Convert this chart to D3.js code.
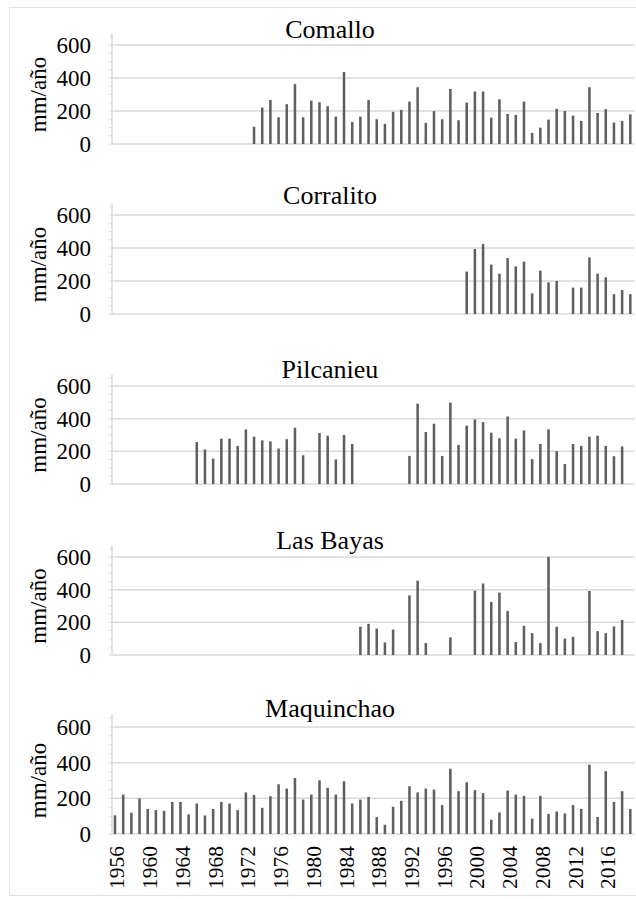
<!DOCTYPE html>
<html>
<head>
<meta charset="utf-8">
<script src="https://cdn.jsdelivr.net/npm/d3@7"></script>
<style>
  html, body { margin: 0; padding: 0; background: #fff; }
  svg { display: block; }
  svg text { font-family: "Liberation Serif", "Times New Roman", "DejaVu Serif", serif; fill: #000; }
</style>
</head>
<body>
<svg id="chart" width="636" height="899"></svg>
<script>
// ---------------- DATA ----------------
const firstYear = 1956;
const lastYear = 2019;
const yTicks = [0, 200, 400, 600];
const xTickLabels = [1956, 1960, 1964, 1968, 1972, 1976, 1980, 1984, 1988, 1992, 1996, 2000, 2004, 2008, 2012, 2016];
const yAxisLabel = "mm/año";

// annual precipitation (mm/año), starting at the given year; null = no data
const comalloStart = 1973;
const comallo = [105,221,267,162,241,363,162,263,253,229,166,436,134,166,267,150,122,195,207,257,344,128,199,150,334,144,251,318,318,160,271,182,176,257,67,99,148,213,200,172,140,344,188,211,130,140,180];

const corralitoStart = 1999;
const corralito = [257,394,424,299,244,339,289,317,125,263,192,200,null,160,160,343,244,222,120,145,120];

const pilcanieuStart = 1966;
const pilcanieu = [257,211,156,278,278,233,334,290,267,261,217,274,344,176,null,312,296,150,300,245,null,null,null,null,null,null,172,492,318,369,172,498,239,357,395,379,314,280,413,278,328,152,245,334,201,122,245,233,290,296,233,170,230];

const lasBayasStart = 1986;
const lasBayas = [173,191,162,77,156,null,365,455,73,null,null,108,null,null,394,438,325,382,270,79,179,134,73,601,173,101,112,null,392,146,134,175,215];

const maquinchaoStart = 1956;
const maquinchao = [105,221,119,199,140,134,130,180,180,110,171,104,140,180,171,134,233,218,147,212,279,255,314,193,221,301,259,221,296,171,193,208,95,52,153,186,268,233,255,249,162,366,240,290,246,229,80,121,244,221,214,86,214,113,126,115,162,141,389,95,352,180,240,140];

const stationNames = ["Comallo", "Corralito", "Pilcanieu", "Las Bayas", "Maquinchao"];
const stationSeries = [comallo, corralito, pilcanieu, lasBayas, maquinchao];
const stationStarts = [comalloStart, corralitoStart, pilcanieuStart, lasBayasStart, maquinchaoStart];

// ---------------- LAYOUT ----------------
const layout = [
  { y0: 144, y600: 45,  titleY: 38 },
  { y0: 314, y600: 215, titleY: 204 },
  { y0: 484, y600: 386, titleY: 378 },
  { y0: 655, y600: 557, titleY: 549 },
  { y0: 834, y600: 727, titleY: 717 }
];
const axisX = 112;
const bandLeft = 110.9, bandRight = 634.4;
const gridColor = "#d9d9d9";
const barColor = "#5f5f5f";

const svg = d3.select("#chart");

// outer frame
svg.append("rect")
  .attr("x", 9.5).attr("y", 7.5)
  .attr("width", 640).attr("height", 888)
  .attr("fill", "none").attr("stroke", "#e3e3e3").attr("stroke-width", 1);

const years = d3.range(firstYear, lastYear + 1);
const x = d3.scaleBand().domain(years).range([bandLeft, bandRight])
  .paddingInner(0.69).paddingOuter(0.345);

stationNames.forEach((name, i) => {
  const L = layout[i];
  const y = d3.scaleLinear().domain([0, 600]).range([L.y0, L.y600]);
  const g = svg.append("g");

  // gridlines
  g.append("g")
    .selectAll("line").data(yTicks.slice(1)).join("line")
    .attr("x1", axisX).attr("x2", bandRight)
    .attr("y1", d => y(d)).attr("y2", d => y(d))
    .attr("stroke", gridColor).attr("stroke-width", 1.5);

  // baseline (x axis)
  g.append("line")
    .attr("x1", axisX).attr("x2", bandRight)
    .attr("y1", y(0)).attr("y2", y(0))
    .attr("stroke", gridColor).attr("stroke-width", 1.5);

  // y axis via d3.axisLeft
  const yAxis = d3.axisLeft(y).tickValues(yTicks).tickSize(0).tickPadding(21);
  const ag = g.append("g").attr("transform", `translate(${axisX},0)`).call(yAxis);
  ag.select(".domain").remove();
  ag.selectAll("text").attr("font-size", 23);

  // y axis line (extended above 600)
  g.append("line")
    .attr("x1", axisX).attr("x2", axisX)
    .attr("y1", y(0)).attr("y2", y(670))
    .attr("stroke", gridColor).attr("stroke-width", 1.5);
  // minor ticks
  g.append("g").selectAll("line").data(d3.range(0, 651, 50)).join("line")
    .attr("x1", axisX - 3).attr("x2", axisX)
    .attr("y1", d => y(d)).attr("y2", d => y(d))
    .attr("stroke", gridColor).attr("stroke-width", 1);

  // bars
  const series = stationSeries[i].map((v, k) => ({ year: stationStarts[i] + k, value: v }))
    .filter(d => d.value !== null);
  g.append("g").selectAll("rect").data(series).join("rect")
    .attr("x", d => x(d.year))
    .attr("width", x.bandwidth())
    .attr("y", d => y(d.value))
    .attr("height", d => y(0) - y(d.value))
    .attr("fill", barColor);

  // title
  g.append("text")
    .attr("x", 330).attr("y", L.titleY)
    .attr("text-anchor", "middle")
    .attr("font-size", 26)
    .text(name);

  // y label
  g.append("text")
    .attr("transform", `translate(46,${(L.y0 + L.y600) / 2}) rotate(-90)`)
    .attr("text-anchor", "middle")
    .attr("font-size", 23)
    .text(yAxisLabel);

  // x labels on last panel
  if (i === stationNames.length - 1) {
    const xAxis = d3.axisBottom(x).tickValues(xTickLabels).tickSize(0).tickPadding(0);
    const xg = g.append("g").attr("transform", `translate(0,${L.y0})`).call(xAxis);
    xg.select(".domain").remove();
    xg.selectAll("text")
      .attr("font-size", 21.5)
      .attr("text-anchor", "end")
      .attr("dy", null)
      .attr("transform", "translate(9.5,12) rotate(-90)");
  }
});
</script>
</body>
</html>
